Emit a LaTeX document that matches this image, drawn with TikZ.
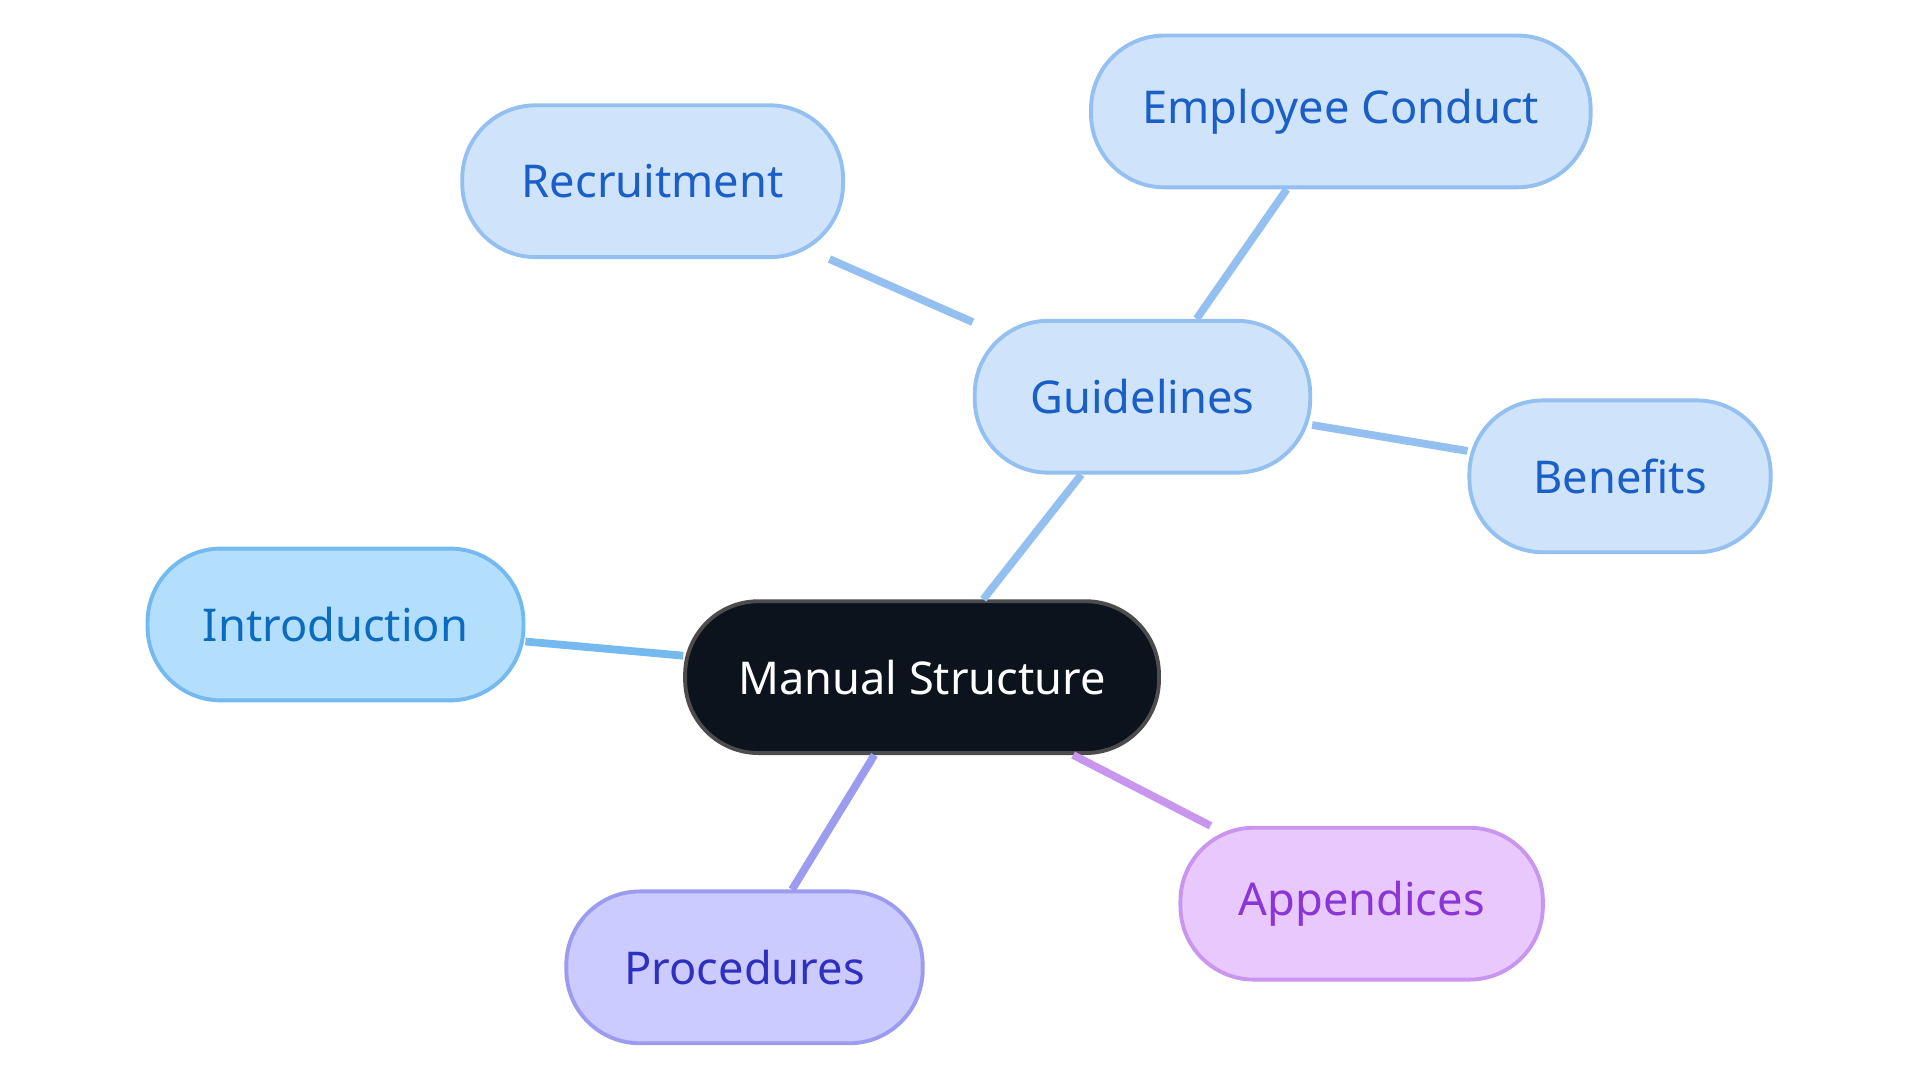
\documentclass[tikz,border=0pt]{standalone}
\usepackage{fontspec}
\setmainfont{Noto Sans}
\usetikzlibrary{positioning}
\definecolor{rootfill}{HTML}{0D131C}
\definecolor{blufill}{HTML}{CFE3FB}
\definecolor{bludraw}{HTML}{93C0F0}
\definecolor{blutext}{HTML}{1A5FC7}
\definecolor{skyfill}{HTML}{B3DEFC}
\definecolor{skydraw}{HTML}{74B9EF}
\definecolor{skytext}{HTML}{0B6BBF}
\definecolor{indfill}{HTML}{CBCBFF}
\definecolor{inddraw}{HTML}{9B9BEF}
\definecolor{indtext}{HTML}{3030C0}
\definecolor{purfill}{HTML}{E8C8FD}
\definecolor{purdraw}{HTML}{C895EF}
\definecolor{purtext}{HTML}{8A35D6}
\begin{document}
\begin{tikzpicture}[
        % Style cho các ô
        pill/.style={
            rounded corners=0.6cm,
            minimum height=1.24cm,
            line width=0.9pt,
            font=\fontsize{10.5}{12}\selectfont
        },
        rootnode/.style={pill, fill=rootfill, draw=black!70, text=white},
        bluenode/.style={pill, fill=blufill, draw=bludraw, text=blutext},
        % Style cạnh nối
        edge/.style={line width=1.8pt}
    ]
        \useasboundingbox (0,0) rectangle (15.68,-8.84);

        % --- CÁC NÚT ---
        \node[rootnode, minimum width=3.87cm] (ms) at (7.53,-5.53) {Manual Structure};
        \node[bluenode, minimum width=2.74cm] (gd) at (9.33,-3.24) {Guidelines};
        \node[bluenode, minimum width=4.08cm] (ec) at (10.95,-0.91) {Employee Conduct};
        \node[bluenode, minimum width=3.11cm] (rc) at (5.33,-1.48) {Recruitment};
        \node[bluenode, minimum width=2.46cm] (bf) at (13.23,-3.89) {Benefits};
        \node[pill, fill=skyfill, draw=skydraw, text=skytext, minimum width=3.07cm] (in) at (2.74,-5.10) {Introduction};
        \node[pill, fill=indfill, draw=inddraw, text=indtext, minimum width=2.91cm] (pr) at (6.08,-7.90) {Procedures};
        \node[pill, fill=purfill, draw=purdraw, text=purtext, minimum width=2.96cm] (ap) at (11.12,-7.38) {Appendices};

        % --- CÁC CẠNH ---
        \draw[edge, draw=bludraw] (ms) -- (gd);
        \draw[edge, draw=bludraw] (gd) -- (ec);
        \draw[edge, draw=bludraw] (gd) -- (rc);
        \draw[edge, draw=bludraw] (gd) -- (bf);
        \draw[edge, draw=skydraw] (ms) -- (in);
        \draw[edge, draw=inddraw] (ms) -- (pr);
        \draw[edge, draw=purdraw] (ms) -- (ap);
    \end{tikzpicture}
\end{document}
